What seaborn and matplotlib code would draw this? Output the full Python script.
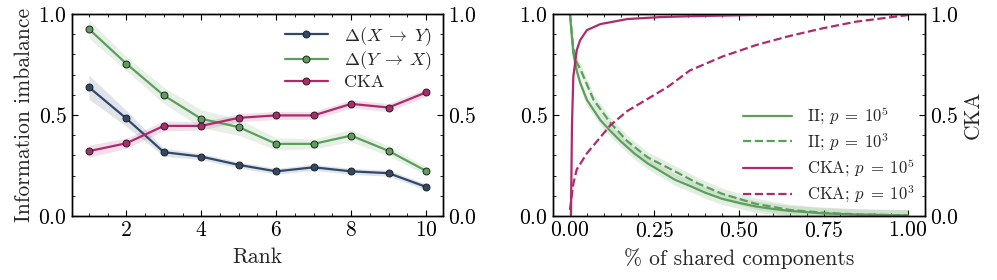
import numpy as np
import pandas as pd
import seaborn as sns
import matplotlib
matplotlib.use("Agg")
import matplotlib.pyplot as plt
from matplotlib.ticker import AutoMinorLocator, MultipleLocator

# ---- left panel data ----
rank = [1, 2, 3, 4, 5, 6, 7, 8, 9, 10]
ii_xy = [0.638, 0.483, 0.316, 0.294, 0.253, 0.221, 0.241, 0.221, 0.212, 0.144]
ii_xy_err = [0.06, 0.04, 0.02, 0.015, 0.015, 0.015, 0.015, 0.015, 0.015, 0.015]
ii_yx = [0.926, 0.754, 0.597, 0.481, 0.440, 0.357, 0.357, 0.398, 0.322, 0.223]
ii_yx_err = [0.045, 0.035, 0.04, 0.045, 0.04, 0.03, 0.025, 0.03, 0.025, 0.02]
cka_rank = [0.321, 0.360, 0.446, 0.446, 0.486, 0.498, 0.498, 0.555, 0.537, 0.612]
cka_rank_err = [0.03, 0.025, 0.025, 0.02, 0.02, 0.02, 0.02, 0.02, 0.02, 0.02]

# ---- right panel data ----
frac_ii5 = [0.0, 0.01, 0.02, 0.03, 0.05, 0.07, 0.09, 0.12, 0.15, 0.19, 0.23, 0.27,
            0.31, 0.36, 0.40, 0.45, 0.50, 0.55, 0.60, 0.65, 0.75, 0.85, 1.0]
ii_p5 = [1.0, 0.805, 0.72, 0.66, 0.575, 0.525, 0.475, 0.42, 0.37, 0.31, 0.26, 0.22,
         0.18, 0.145, 0.115, 0.085, 0.065, 0.047, 0.035, 0.025, 0.013, 0.007, 0.003]
frac_ii3 = [0.0, 0.01, 0.02, 0.03, 0.07, 0.12, 0.17, 0.23, 0.30, 0.38, 0.45, 0.55,
            0.65, 0.75, 0.85, 1.0]
ii_p3 = [1.0, 0.83, 0.76, 0.73, 0.575, 0.46, 0.37, 0.29, 0.23, 0.16, 0.11, 0.06,
         0.03, 0.016, 0.008, 0.003]
frac_cka5 = [0.003, 0.006, 0.01, 0.02, 0.03, 0.05, 0.09, 0.17, 0.27, 0.38, 0.55, 0.75, 1.0]
cka_p5 = [0.0, 0.45, 0.69, 0.82, 0.87, 0.92, 0.95, 0.975, 0.985, 0.99, 0.995, 0.997, 1.0]
frac_cka3 = [0.0, 0.01, 0.02, 0.05, 0.09, 0.12, 0.17, 0.23, 0.29, 0.354, 0.452,
             0.55, 0.649, 0.747, 0.846, 0.944, 1.0]
cka_p3 = [0.03, 0.16, 0.23, 0.31, 0.39, 0.45, 0.52, 0.58, 0.64, 0.72, 0.79,
          0.846, 0.891, 0.929, 0.962, 0.983, 0.995]
ii_band = 0.028

BLUE = "#30496b"
GREEN = "#5c9f5b"
PINK = "#ad2a6d"

sns.set_style("ticks")
plt.rcParams.update({
    "font.family": ["cmr10", "DejaVu Serif"],
    "mathtext.fontset": "cm",
    "axes.formatter.use_mathtext": True,
    "axes.unicode_minus": False,
    "font.size": 15,
    "axes.edgecolor": "black",
    "axes.linewidth": 1.0,
    "xtick.direction": "in",
    "ytick.direction": "in",
    "xtick.top": True,
    "xtick.major.size": 4,
    "ytick.major.size": 4,
    "xtick.minor.size": 2.2,
    "ytick.minor.size": 2.2,
    "xtick.color": "black",
    "ytick.color": "black",
    "xtick.labelsize": 15.5,
    "ytick.labelsize": 15.5,
    "axes.labelsize": 15.5,
    "axes.labelpad": 3,
})

fig = plt.figure(figsize=(9.97, 2.8), dpi=100)
ax1 = fig.add_axes([0.0722, 0.2286, 0.3721, 0.7214])
ax2 = fig.add_axes([0.5547, 0.2286, 0.3731, 0.7214])

df = pd.DataFrame({"rank": rank, "xy": ii_xy, "yx": ii_yx, "cka": cka_rank})
series = [("xy", ii_xy_err, BLUE, r"$\Delta(X\;\rightarrow\;Y)$"),
          ("yx", ii_yx_err, GREEN, r"$\Delta(Y\;\rightarrow\;X)$"),
          ("cka", cka_rank_err, PINK, "CKA")]
for col, err, c, lab in series:
    y = np.array(df[col])
    e = np.array(err)
    ax1.fill_between(df["rank"], y - e, y + e, color=c, alpha=0.15, lw=0)
    sns.lineplot(data=df, x="rank", y=col, ax=ax1, color=c, lw=1.6, marker="o",
                 markersize=5, markeredgecolor="#222222", markeredgewidth=0.7,
                 label=lab)

ax1.set_ylim(0, 1.0)
ax1.set_xlabel("Rank", labelpad=5)
ax1.set_ylabel("Information imbalance")
ax1.xaxis.set_major_locator(MultipleLocator(2))
ax1.xaxis.set_minor_locator(AutoMinorLocator(4))
ax1.yaxis.set_major_locator(MultipleLocator(0.5))
ax1.yaxis.set_minor_locator(AutoMinorLocator(5))
ax1.legend(loc="upper right", frameon=False, fontsize=13, handlelength=2.4,
           borderaxespad=0.2, labelspacing=0.12, handletextpad=0.9)
t1 = ax1.twinx()
t1.set_ylim(0, 1.0)
t1.yaxis.set_major_locator(MultipleLocator(0.5))
t1.yaxis.set_minor_locator(AutoMinorLocator(5))

# right panel
d5 = pd.DataFrame({"x": frac_ii5, "y": ii_p5})
d3 = pd.DataFrame({"x": frac_ii3, "y": ii_p3})
for d in (d5, d3):
    ax2.fill_between(d["x"], np.clip(d["y"] - ii_band, 0, None),
                     np.clip(d["y"] + ii_band, None, 1), color=GREEN, alpha=0.17, lw=0)
sns.lineplot(data=d5, x="x", y="y", ax=ax2, color=GREEN, lw=1.6,
             label=r"II; $p\;=\;10^5$")
sns.lineplot(data=d3, x="x", y="y", ax=ax2, color=GREEN, lw=1.6, ls="--",
             label=r"II; $p\;=\;10^3$")
t2 = ax2.twinx()
sns.lineplot(x=frac_cka5, y=cka_p5, ax=t2, color=PINK, lw=1.6,
             label=r"CKA; $p\;=\;10^5$")
sns.lineplot(x=frac_cka3, y=cka_p3, ax=t2, color=PINK, lw=1.6, ls="--",
             label=r"CKA; $p\;=\;10^3$")
t2.get_legend().remove()

ax2.set_ylim(0, 1.0)
t2.set_ylim(0, 1.0)
ax2.set_xlim(-0.05, 1.05)
ax2.set_xlabel("% of shared components", labelpad=5)
ax2.set_ylabel("")
t2.set_ylabel("CKA")
ax2.xaxis.set_major_locator(MultipleLocator(0.25))
ax2.xaxis.set_minor_locator(AutoMinorLocator(5))
for a in (ax2, t2):
    a.yaxis.set_major_locator(MultipleLocator(0.5))
    a.yaxis.set_minor_locator(AutoMinorLocator(5))

h1, l1 = ax2.get_legend_handles_labels()
h2, l2 = t2.get_legend_handles_labels()
ax2.get_legend().remove()
t2.legend(h1 + h2, l1 + l2, loc="lower right", frameon=False, fontsize=12,
          handlelength=2.9, borderaxespad=0.25, labelspacing=0.25, handletextpad=0.9)

fig.savefig("out.png", dpi=100)
